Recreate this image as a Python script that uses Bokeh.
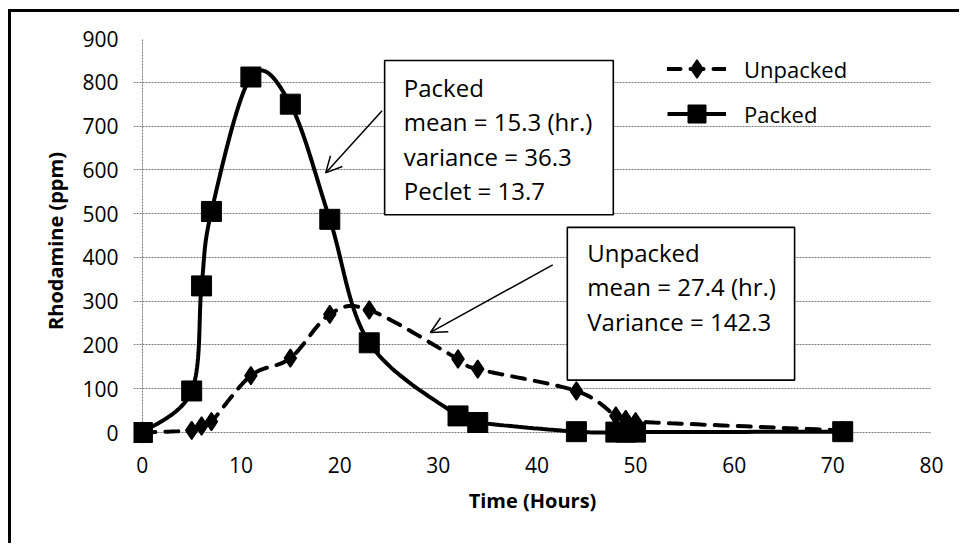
import numpy as np
from bokeh.plotting import figure
from bokeh.models import (Range1d, FixedTicker, Legend, LegendItem, Label,
                          BoxAnnotation, Arrow, OpenHead)
from bokeh.embed import file_html
from bokeh.resources import INLINE

# ---------------- data ----------------
time_packed = [0, 5, 6, 7, 11, 15, 19, 23, 32, 34, 44, 48, 49, 50, 71]
rhod_packed = [0, 95, 335, 505, 812, 750, 487, 205, 38, 23, 2, 1, 1, 1, 2]
time_unpacked = [0, 5, 6, 7, 11, 15, 19, 23, 32, 34, 44, 48, 49, 50, 71]
rhod_unpacked = [0, 5, 15, 25, 130, 170, 270, 280, 168, 145, 95, 38, 30, 25, 5]
x_ticks = [0, 10, 20, 30, 40, 50, 60, 70, 80]
y_ticks = [0, 100, 200, 300, 400, 500, 600, 700, 800, 900]

packed_text = "Packed\nmean = 15.3 (hr.)\nvariance = 36.3\nPeclet = 13.7"
unpacked_text = "Unpacked\nmean = 27.4 (hr.)\nVariance = 142.3"

FONT = "Open Sans"


def smooth_path(xs, ys, n=24):
    """Excel-like smoothed line path (Catmull-Rom Bezier) through the data points."""
    P = np.column_stack([np.asarray(xs, float), np.asarray(ys, float)])
    E = np.vstack([P[0], P, P[-1]])
    out = [P[0]]
    t = np.linspace(0, 1, n)[1:, None]
    for i in range(len(P) - 1):
        p0, p1, p2, p3 = E[i], E[i + 1], E[i + 2], E[i + 3]
        c1 = p1 + (p2 - p0) / 6.0
        c2 = p2 - (p3 - p1) / 6.0
        seg = (1 - t) ** 3 * p1 + 3 * (1 - t) ** 2 * t * c1 + 3 * (1 - t) * t ** 2 * c2 + t ** 3 * p2
        out.extend(seg)
    out = np.array(out)
    return out[:, 0], out[:, 1]


p = figure(width=951, height=534,
           x_range=Range1d(-0.9, 80), y_range=Range1d(-25, 900),
           output_backend="svg", toolbar_location=None,
           min_border_left=122, min_border_right=31,
           min_border_top=26, min_border_bottom=103,
           styles={"border-left": "3px solid black", "border-top": "3px solid black",
                   "margin-left": "8px", "margin-top": "9px"})
p.outline_line_color = None
p.background_fill_color = "white"
p.border_fill_color = "white"

# axes
p.xaxis.ticker = FixedTicker(ticks=x_ticks)
p.yaxis.ticker = FixedTicker(ticks=y_ticks)
for ax in (p.xaxis[0], p.yaxis[0]):
    ax.axis_line_color = None
    ax.major_tick_line_color = None
    ax.minor_tick_line_color = None
    ax.major_label_text_font = FONT
    ax.major_label_text_font_size = "21px"
    ax.major_label_text_color = "black"
    ax.axis_label_text_font = FONT
    ax.axis_label_text_font_size = "20px"
    ax.axis_label_text_font_style = "bold"
    ax.axis_label_text_color = "black"
p.xaxis.axis_label = "Time (Hours)"
p.yaxis.axis_label = "Rhodamine (ppm)"
p.xaxis.major_label_standoff = 7
p.yaxis.major_label_standoff = 9
p.xaxis.axis_label_standoff = 11
p.yaxis.axis_label_standoff = 10

# grid
p.ygrid.ticker = FixedTicker(ticks=y_ticks)
p.xgrid.ticker = FixedTicker(ticks=[0])
for g in (p.xgrid[0], p.ygrid[0]):
    g.grid_line_color = "#7a7a7a"
    g.grid_line_alpha = 1.0
    g.grid_line_width = 1
    g.grid_line_dash = "2 1"

# series
ux, uy = smooth_path(time_unpacked, rhod_unpacked)
px_, py_ = smooth_path(time_packed, rhod_packed)

u_line = p.line(ux, uy, line_color="black", line_width=4, line_dash="13 10", line_cap="round")
u_mark = p.scatter(time_unpacked, rhod_unpacked, marker="diamond", size=18,
                   fill_color="black", line_color="black", line_width=1.5)
p_line = p.line(px_, py_, line_color="black", line_width=4)
p_mark = p.scatter(time_packed, rhod_packed, marker="square", size=20,
                   fill_color="black", line_color="black")

legend = Legend(items=[LegendItem(label="Unpacked", renderers=[u_line, u_mark]),
                       LegendItem(label="Packed", renderers=[p_line, p_mark])],
                location=(534, 307), orientation="vertical",
                glyph_width=59, glyph_height=45, spacing=0, label_standoff=18,
                padding=0, margin=0, border_line_color=None,
                background_fill_alpha=0,
                label_text_font=FONT, label_text_font_size="22px",
                label_text_color="black")
p.add_layout(legend)

# annotation boxes
p.add_layout(BoxAnnotation(left=24.56, right=47.74, bottom=497.6, top=849.6,
                           fill_color="white", fill_alpha=1.0,
                           line_color="black", line_width=1.6, line_alpha=1.0))
p.add_layout(BoxAnnotation(left=43.08, right=66.12, bottom=119.8, top=468.6,
                           fill_color="white", fill_alpha=1.0,
                           line_color="black", line_width=1.6, line_alpha=1.0))
p.add_layout(Label(x=26.5, y=826, text=packed_text, text_font=FONT,
                   text_font_size="24px", text_baseline="top", text_align="left",
                   text_line_height=1.04, text_color="black"))
p.add_layout(Label(x=45.1, y=449, text=unpacked_text, text_font=FONT,
                   text_font_size="24px", text_baseline="top", text_align="left",
                   text_line_height=1.04, text_color="black"))

# arrows
p.add_layout(Arrow(end=OpenHead(size=16, line_width=1.5, line_color="black"),
                   x_start=24.3, y_start=735, x_end=18.58, y_end=593,
                   line_width=1.5, line_color="black"))
p.add_layout(Arrow(end=OpenHead(size=16, line_width=1.5, line_color="black"),
                   x_start=41.6, y_start=383, x_end=29.2, y_end=228.6,
                   line_width=1.5, line_color="black"))

with open("out.html", "w") as f:
    f.write(file_html(p, INLINE))
